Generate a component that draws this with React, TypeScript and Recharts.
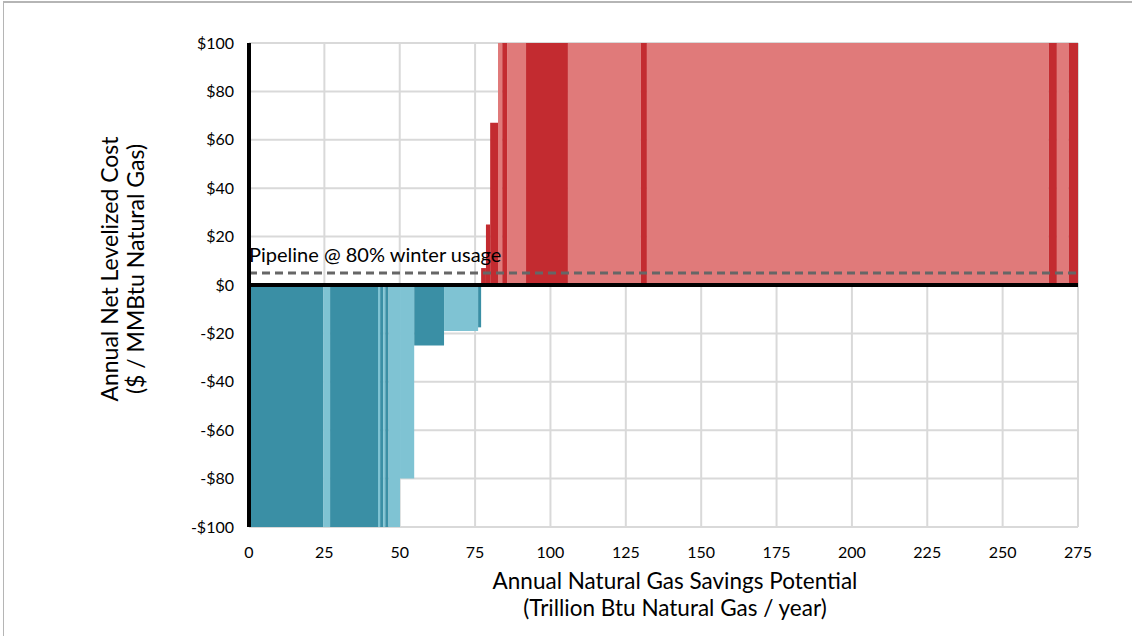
import React from 'react';
import { ComposedChart, XAxis, YAxis, CartesianGrid, ReferenceArea, ReferenceLine, Line } from 'recharts';

// 节约量区间（万亿 Btu/年）与成本（$/MMBtu）
const blueStarts = [0, 24.6, 26.9, 42.8, 43.5, 44.5, 45.2, 46.3, 50.1, 54.8, 64.7, 76.0];
const blueEnds = [24.6, 26.9, 42.8, 43.5, 44.5, 45.2, 46.3, 50.1, 54.8, 64.7, 76.0, 77.0];
const blueCosts = [-100, -100, -100, -100, -100, -100, -100, -100, -80, -25, -19, -17.5];
const blueShades = ['dark', 'light', 'dark', 'light', 'dark', 'light', 'dark', 'light', 'light', 'dark', 'light', 'dark'];

const redStarts = [77.0, 78.6, 80.0, 82.6, 84.0, 85.6, 91.9, 105.8, 130.0, 132.0, 265.3, 268.0, 271.9];
const redEnds = [78.6, 80.0, 82.6, 84.0, 85.6, 91.9, 105.8, 130.0, 132.0, 265.3, 268.0, 271.9, 275.0];
const redCosts = [7, 25, 67, 100, 100, 100, 100, 100, 100, 100, 100, 100, 100];
const redShades = ['dark', 'dark', 'dark', 'light', 'dark', 'light', 'dark', 'light', 'dark', 'light', 'dark', 'light', 'dark'];

const pipelineCost = 5;
const pipelineLabel = 'Pipeline @ 80% winter usage';

const xTicks = [0, 25, 50, 75, 100, 125, 150, 175, 200, 225, 250, 275];
const yTicks = [-100, -80, -60, -40, -20, 0, 20, 40, 60, 80, 100];

const COLORS: Record<string, string> = {
  blueDark: '#3A8FA5',
  blueLight: '#7FC3D3',
  redDark: '#C32B30',
  redLight: '#E07A7A',
};

const FONT = 'Lato, "Open Sans", sans-serif';

const pipelineData = [
  { x: 0, y: pipelineCost },
  { x: 275, y: pipelineCost },
];

const fmtDollar = (v: number) => (v < 0 ? `-$${-v}` : `$${v}`);

export default function App() {
  return (
    <div
      style={{
        position: 'absolute',
        left: 0,
        top: 0,
        width: 1132,
        height: 636,
        background: '#fff',
        fontFamily: FONT,
        overflow: 'hidden',
      }}
    >
      {/* 幻灯片边框 */}
      <div style={{ position: 'absolute', left: 3, top: 1, right: 0, bottom: 0, borderTop: '2px solid #b5b5b5', borderLeft: '1px solid #b5b5b5' }} />
      <div style={{ position: 'absolute', left: 0, top: 0 }}>
        <ComposedChart width={1132} height={636} data={pipelineData} margin={{ top: 43, right: 54, bottom: 79, left: 189 }}>
          <CartesianGrid stroke="#d9d9d9" strokeWidth={2} horizontalValues={yTicks} verticalValues={xTicks} />
          <XAxis
            dataKey="x"
            type="number"
            domain={[0, 275]}
            ticks={xTicks}
            tickLine={false}
            axisLine={false}
            tickMargin={14}
            height={30}
            tick={{ fontSize: 16, fill: '#000', fontFamily: FONT }}
          />
          <YAxis
            type="number"
            domain={[-100, 100]}
            ticks={yTicks}
            tickFormatter={fmtDollar}
            tickLine={false}
            axisLine={{ stroke: '#000', strokeWidth: 4 }}
            tickMargin={9}
            width={60}
            tick={{ fontSize: 16, fill: '#000', fontFamily: FONT }}
          />
          {blueStarts.map((s, i) => (
            <ReferenceArea
              key={`b${i}`}
              x1={s}
              x2={blueEnds[i]}
              y1={0}
              y2={blueCosts[i]}
              fill={blueShades[i] === 'dark' ? COLORS.blueDark : COLORS.blueLight}
              fillOpacity={1}
              stroke="none"
              ifOverflow="hidden"
            />
          ))}
          {redStarts.map((s, i) => (
            <ReferenceArea
              key={`r${i}`}
              x1={s}
              x2={redEnds[i]}
              y1={0}
              y2={redCosts[i]}
              fill={redShades[i] === 'dark' ? COLORS.redDark : COLORS.redLight}
              fillOpacity={1}
              stroke="none"
              ifOverflow="hidden"
            />
          ))}
          <ReferenceLine y={0} stroke="#000" strokeWidth={4} />
          <Line
            dataKey="y"
            stroke="#666"
            strokeWidth={3}
            strokeDasharray="8 5"
            dot={false}
            activeDot={false}
            isAnimationActive={false}
            label={(p: any) =>
              p.index === 0 ? (
                <text key="pl" x={p.x} y={p.y - 11} fontSize={20} fill="#000" fontFamily={FONT}>
                  {pipelineLabel}
                </text>
              ) : null
            }
          />
        </ComposedChart>
      </div>
      {/* 坐标轴标题 */}
      <div style={{ position: 'absolute', left: 425, width: 500, top: 567, textAlign: 'center', fontSize: 22.5, lineHeight: '27px', color: '#000' }}>
        Annual Natural Gas Savings Potential
        <br />
        (Trillion Btu Natural Gas / year)
      </div>
      <div
        style={{
          position: 'absolute',
          left: 122 - 200,
          top: 270 - 27,
          width: 400,
          textAlign: 'center',
          fontSize: 23,
          lineHeight: '26px',
          color: '#000',
          transform: 'rotate(-90deg)',
        }}
      >
        Annual Net Levelized Cost
        <br />
        ($ / MMBtu Natural Gas)
      </div>
    </div>
  );
}
